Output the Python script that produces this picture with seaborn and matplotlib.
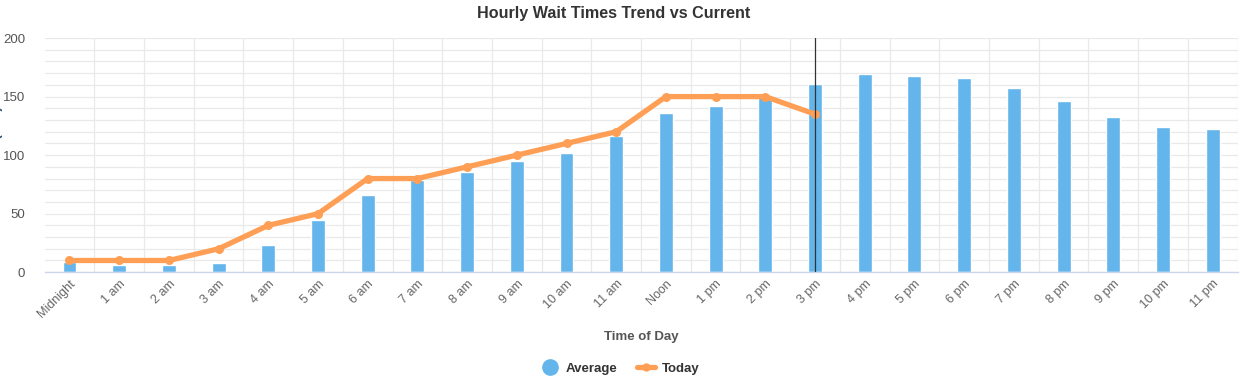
import numpy as np
import seaborn as sns
import matplotlib.pyplot as plt
from matplotlib.lines import Line2D

hours = ['Midnight', '1 am', '2 am', '3 am', '4 am', '5 am', '6 am', '7 am', '8 am', '9 am',
         '10 am', '11 am', 'Noon', '1 pm', '2 pm', '3 pm', '4 pm', '5 pm', '6 pm', '7 pm',
         '8 pm', '9 pm', '10 pm', '11 pm']
average = [9, 6, 6, 8, 23, 45, 66, 79, 86, 95, 102, 116, 136, 142, 150, 161,
           169, 168, 166, 157, 146, 133, 124, 122]
today = [10, 10, 10, 20, 40, 50, 80, 80, 90, 100, 110, 120, 150, 150, 150, 135]
current_hour = '3 pm'

bar_color = '#63b5eb'
line_color = '#ff9f55'

sns.set_style('white')
plt.rcParams['font.family'] = ['Liberation Sans', 'DejaVu Sans']

fig, ax = plt.subplots(figsize=(12.4, 3.77), dpi=100)
fig.subplots_adjust(left=0.036, right=0.998, top=0.899, bottom=0.278)

sns.barplot(x=hours, y=average, color=bar_color, width=0.28, saturation=1, ax=ax, zorder=2)
sns.lineplot(x=np.arange(len(today)), y=today, color=line_color, linewidth=3.8,
             marker='o', markersize=6.5, markeredgewidth=0, ax=ax, zorder=4)

# current time marker
ax.axvline(hours.index(current_hour), color='#333333', linewidth=0.9, zorder=5)

ax.set_xlim(-0.5, len(hours) - 0.5)
ax.set_ylim(0, 200)
ax.set_yticks([0, 50, 100, 150, 200])
ax.set_yticks(np.arange(0, 201, 10), minor=True)
ax.set_xticks(np.arange(len(hours)) + 0.5, minor=True)
ax.grid(which='both', axis='y', color='#e9e9e9', linewidth=0.9, zorder=0)
ax.grid(which='minor', axis='x', color='#e9e9e9', linewidth=0.9, zorder=0)
ax.set_axisbelow(True)
ax.tick_params(which='both', length=0)
ax.tick_params(axis='y', labelsize=9.5, labelcolor='#555555', pad=14)
ax.tick_params(axis='x', labelsize=9, labelcolor='#666666', pad=4)
plt.setp(ax.get_xticklabels(), rotation=45, ha='right', rotation_mode='anchor')

for s in ['top', 'right', 'left']:
    ax.spines[s].set_visible(False)
ax.spines['bottom'].set_color('#ccd6eb')
ax.spines['bottom'].set_linewidth(1)

fig.suptitle('Hourly Wait Times Trend vs Current', fontsize=11.6, fontweight='bold',
             color='#333333', x=0.495, y=0.985)
ax.set_xlabel('Time of Day', fontsize=9.5, fontweight='bold', color='#555555', labelpad=8)
ax.set_ylabel('Wait Time (min)', fontsize=9.5, fontweight='bold', color='#2b4a7a')
ax.yaxis.set_label_coords(-0.0345, 0.5)

handles = [
    Line2D([], [], linestyle='none', marker='o', markersize=11, color=bar_color),
    Line2D([], [], color=line_color, linewidth=3.8, marker='o', markersize=6, markeredgewidth=0),
]
fig.legend(handles, ['Average', 'Today'], loc='center', bbox_to_anchor=(0.5, 0.022),
           ncol=2, frameon=False, handlelength=1.4, columnspacing=1.5, handletextpad=0.5,
           prop={'weight': 'bold', 'size': 9.5})
for t in fig.legends[0].get_texts():
    t.set_color('#333333')

fig.savefig('out.png', dpi=100)
